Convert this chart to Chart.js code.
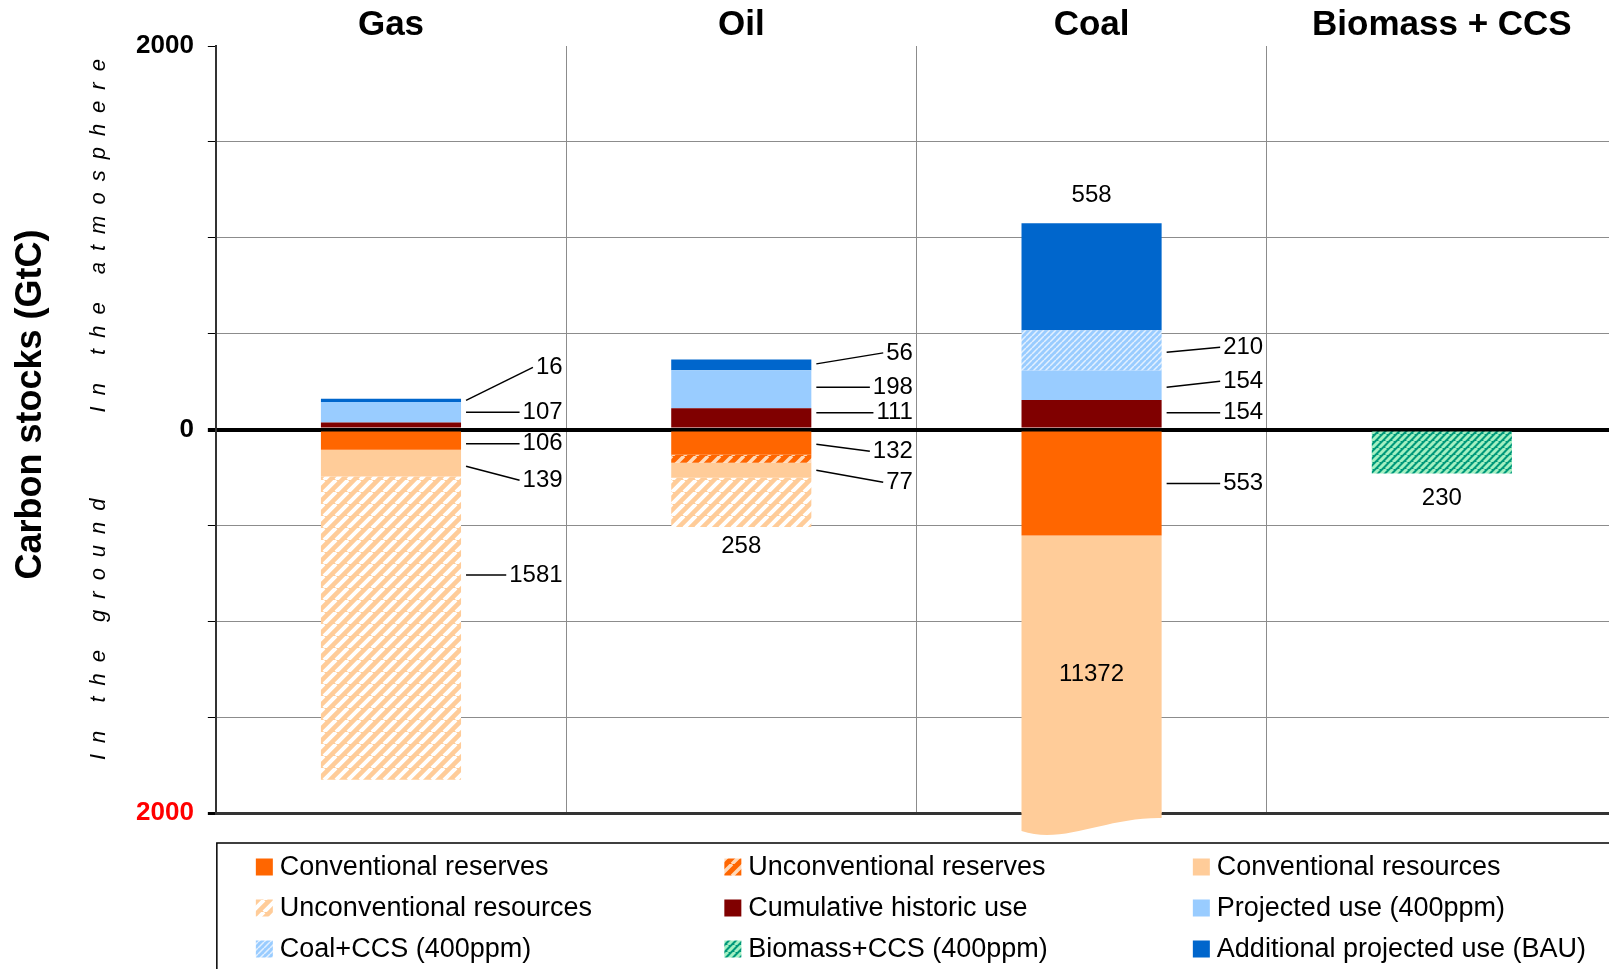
<!DOCTYPE html>
<html>
<head>
<meta charset="utf-8">
<script src="https://cdn.jsdelivr.net/npm/chart.js@4"></script>
<style>
  html, body { margin: 0; padding: 0; background: #fff; overflow: hidden; }
  #wrap { width: 1640px; height: 969px; position: relative; }
</style>
</head>
<body>
<div id="wrap"><canvas id="carbonChart"></canvas></div>
<script>
const categories = ['Gas', 'Oil', 'Coal', 'Biomass + CCS'];

// GtC, as printed on the chart. Ground stocks get drawn below zero.
const conventionalReserves    = [106, 132, 553, null];
const unconventionalReserves  = [null, 42, null, null];
const conventionalResources   = [139, 77, 11372, null];
const unconventionalResources = [1581, 258, null, null];
const cumulativeHistoricUse   = [37, 111, 154, null];
const projectedUse400         = [107, 198, 154, null];
const coalCcs400              = [null, null, 210, null];
const biomassCcs400           = [null, null, null, 230];
const additionalUseBau        = [16, 56, 558, null];

const yTickLabels = { '2000': '2000', '0': '0', '-2000': '2000' };

// [dataset, category, mode, dy of leader start, dy of text]
const labelSpecs = [
  [8, 0, 'leader', 0, -33], [5, 0, 'leader', 0, 0], [0, 0, 'leader', 3, 3],
  [2, 0, 'leader', 3, 17], [3, 0, 'leader', -53, -53],
  [8, 1, 'leader', -1, -12], [5, 1, 'leader', -2, -2], [4, 1, 'leader', -5, -5],
  [0, 1, 'leader', 1, 8], [2, 1, 'leader', 0, 12], [3, 1, 'below', 19],
  [8, 2, 'above', 28], [6, 2, 'leader', 2, -3], [5, 2, 'leader', 2, -4],
  [4, 2, 'leader', -1, -1], [0, 2, 'leader', 0, 0], [2, 2, 'inside'],
  [7, 3, 'below', 25]
];

const FONT = '"Liberation Sans", Arial, sans-serif';
const canvas = document.getElementById('carbonChart');
const mainCtx = canvas.getContext('2d');

function stripes(base, line, period, width) {
  const c = document.createElement('canvas');
  c.width = c.height = period;
  const g = c.getContext('2d');
  g.fillStyle = base;
  g.fillRect(0, 0, period, period);
  g.strokeStyle = line;
  g.lineWidth = width;
  g.beginPath();
  for (let k = -1; k <= 1; k++) {
    g.moveTo(k * period, period);
    g.lineTo(k * period + period, 0);
  }
  g.stroke();
  return mainCtx.createPattern(c, 'repeat');
}

const neg = arr => arr.map(v => v == null ? null : -v);

const datasets = [
  { label: 'Conventional reserves', data: neg(conventionalReserves), backgroundColor: '#ff6600' },
  { label: 'Unconventional reserves', data: neg(unconventionalReserves), backgroundColor: stripes('#ff6600', '#ffd9b8', 12, 3.5) },
  { label: 'Conventional resources', data: neg(conventionalResources), backgroundColor: '#ffcc99' },
  { label: 'Unconventional resources', data: neg(unconventionalResources), backgroundColor: stripes('#ffcc99', '#ffffff', 12, 4) },
  { label: 'Cumulative historic use', data: cumulativeHistoricUse, backgroundColor: '#800000' },
  { label: 'Projected use (400ppm)', data: projectedUse400, backgroundColor: '#99ccff' },
  { label: 'Coal+CCS (400ppm)', data: coalCcs400, backgroundColor: stripes('#99ccff', '#e3f0ff', 6, 1.5) },
  { label: 'Biomass+CCS (400ppm)', data: neg(biomassCcs400), backgroundColor: stripes('#00997a', '#a3f0c2', 7, 3) },
  { label: 'Additional projected use (BAU)', data: additionalUseBau, backgroundColor: '#0066cc' }
];

// torn-off tail under bars that run past the bottom of the axis
function drawTail(ctx, chart, color, el) {
  const b = chart.chartArea.bottom;
  const x0 = el.x - el.width / 2, x1 = el.x + el.width / 2, w = el.width;
  ctx.fillStyle = color;
  ctx.beginPath();
  ctx.moveTo(x0, b - 1);
  ctx.lineTo(x1, b - 1);
  ctx.lineTo(x1, b + 5);
  ctx.bezierCurveTo(x1 - 0.4 * w, b + 4, x0 + 0.3 * w, b + 32, x0, b + 18);
  ctx.closePath();
  ctx.fill();
}

const stackLabels = {
  id: 'stackLabels',
  afterDatasetsDraw(chart) {
    const { ctx, chartArea, scales: { x } } = chart;
    ctx.save();
    chart.data.datasets.forEach((ds, di) => {
      chart.getDatasetMeta(di).data.forEach((bar, ci) => {
        const p = bar.getProps(['x', 'y', 'base', 'width'], true);
        if (ds.data[ci] != null && p.y > chartArea.bottom + 1) drawTail(ctx, chart, ds.backgroundColor, p);
      });
    });

    const halfCat = (x.getPixelForValue(1) - x.getPixelForValue(0)) / 2;
    ctx.font = `24px ${FONT}`;
    ctx.fillStyle = '#000';
    ctx.strokeStyle = '#000';
    ctx.lineWidth = 1.5;
    ctx.textBaseline = 'middle';
    labelSpecs.forEach(([di, ci, mode, a, b]) => {
      const bar = chart.getDatasetMeta(di).data[ci];
      const p = bar.getProps(['x', 'y', 'base', 'width'], true);
      const top = Math.max(Math.min(p.y, p.base), chartArea.top);
      const bottom = Math.min(Math.max(p.y, p.base), chartArea.bottom);
      const mid = (top + bottom) / 2;
      const text = String(Math.abs(chart.data.datasets[di].data[ci]));
      if (mode === 'leader') {
        const right = x.getPixelForValue(ci) + halfCat * 0.98;
        const w = ctx.measureText(text).width;
        ctx.textAlign = 'right';
        ctx.fillText(text, right, mid + b);
        ctx.beginPath();
        ctx.moveTo(p.x + p.width / 2 + 5, mid + a);
        ctx.lineTo(right - w - 3, mid + b);
        ctx.stroke();
      } else {
        ctx.textAlign = 'center';
        if (mode === 'above') ctx.fillText(text, p.x, top - a);
        if (mode === 'below') ctx.fillText(text, p.x, bottom + a);
        if (mode === 'inside') ctx.fillText(text, p.x, mid);
      }
    });
    ctx.restore();
  }
};

function spacedText(ctx, str, cx, cy, spacing) {
  const chars = [...str];
  const widths = chars.map(ch => ctx.measureText(ch).width);
  const total = widths.reduce((s, w) => s + w, 0) + spacing * (chars.length - 1);
  ctx.save();
  ctx.translate(cx, cy);
  ctx.rotate(-Math.PI / 2);
  let pos = -total / 2;
  chars.forEach((ch, i) => {
    ctx.fillText(ch, pos, 0);
    pos += widths[i] + spacing;
  });
  ctx.restore();
}

const sideTextAndLegend = {
  id: 'sideTextAndLegend',
  afterDraw(chart) {
    const { ctx, chartArea, scales: { y } } = chart;
    ctx.save();
    ctx.fillStyle = '#000';
    ctx.textBaseline = 'middle';

    // axis title
    ctx.save();
    ctx.translate(31, (chartArea.top + chartArea.bottom) / 2 - 25);
    ctx.rotate(-Math.PI / 2);
    ctx.textAlign = 'center';
    ctx.font = `bold 36px ${FONT}`;
    ctx.fillText('Carbon stocks (GtC)', 0, 0);
    ctx.restore();

    ctx.textAlign = 'left';
    ctx.font = `italic 22px ${FONT}`;
    spacedText(ctx, 'In the atmosphere', chartArea.left - 117, y.getPixelForValue(1000) - 2, 11);
    spacedText(ctx, 'In the ground', chartArea.left - 117, y.getPixelForValue(-1000) + 8, 11);

    // legend box
    const boxL = chartArea.left + 1, boxT = chartArea.bottom + 30;
    ctx.strokeStyle = '#000';
    ctx.lineWidth = 1.5;
    ctx.strokeRect(boxL, boxT, 2000, 500);
    ctx.font = `27px ${FONT}`;
    chart.data.datasets.forEach((ds, i) => {
      const col = i % 3, row = Math.floor(i / 3);
      const sx = boxL + 39 + col * 468.5;
      const sy = boxT + 24 + row * 41;
      ctx.fillStyle = ds.backgroundColor;
      ctx.fillRect(sx, sy - 8.5, 17, 17);
      ctx.fillStyle = '#000';
      ctx.fillText(ds.label, sx + 24, sy + 1);
    });
    ctx.restore();
  }
};

new Chart(mainCtx, {
  type: 'bar',
  data: { labels: categories, datasets: datasets },
  options: {
    responsive: true,
    maintainAspectRatio: false,
    animation: false,
    layout: { padding: { left: 122, top: 4, right: 23, bottom: 156 } },
    plugins: { legend: { display: false }, tooltip: { enabled: false } },
    datasets: { bar: { barPercentage: 0.4, categoryPercentage: 1, borderWidth: 0, clip: 0 } },
    scales: {
      x: {
        position: 'top',
        stacked: true,
        border: { display: false },
        grid: { color: '#8c8c8c', lineWidth: 1, drawTicks: false, offset: true },
        ticks: { color: '#000', padding: 0, font: { family: FONT, size: 35, weight: 'bold' } }
      },
      y: {
        stacked: true,
        min: -2000,
        max: 2000,
        border: { color: '#333', width: 2 },
        grid: {
          color: c => c.tick.value === 2000 ? 'rgba(0,0,0,0)' : c.tick.value === 0 ? '#000' : c.tick.value === -2000 ? '#333' : '#8c8c8c',
          lineWidth: c => c.tick.value === 0 ? 4 : c.tick.value === -2000 ? 3 : 1,
          tickColor: '#000',
          tickLength: 8
        },
        ticks: {
          stepSize: 500,
          autoSkip: false,
          padding: 14,
          callback: v => yTickLabels[v] ?? '',
          color: c => c.tick && c.tick.value === -2000 ? '#ff0000' : '#000',
          font: { family: FONT, size: 26, weight: 'bold' }
        }
      }
    }
  },
  plugins: [stackLabels, sideTextAndLegend]
});
</script>
</body>
</html>
